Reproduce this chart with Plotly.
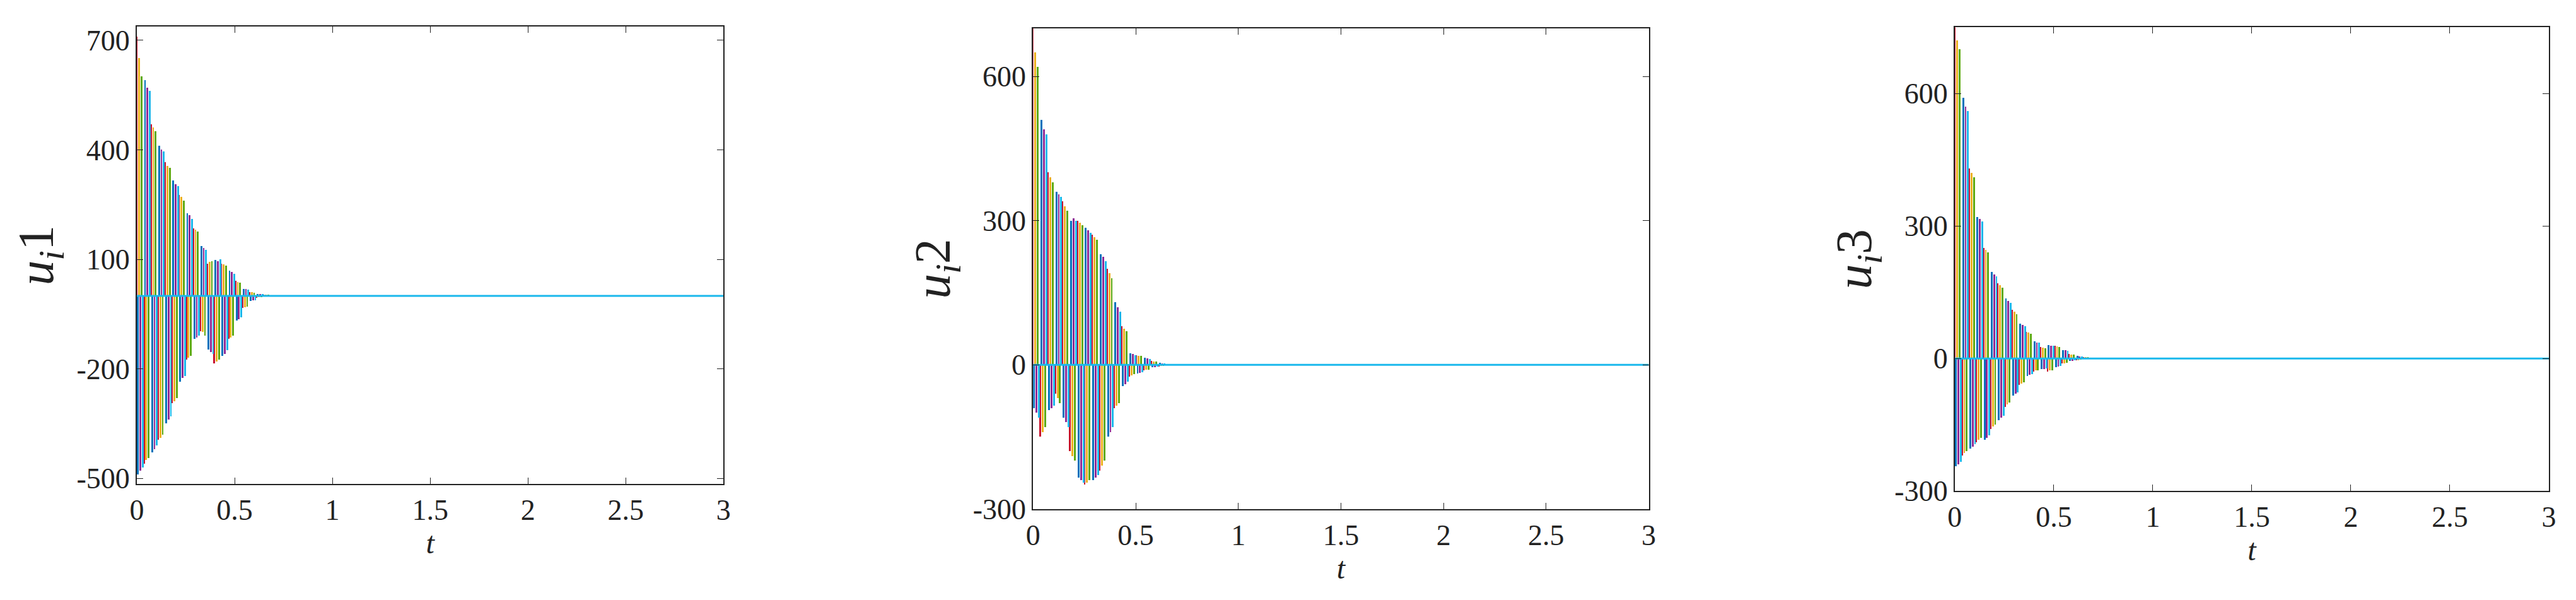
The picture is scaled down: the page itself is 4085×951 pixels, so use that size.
import plotly.graph_objects as go

# spike times for the six agents (s)
t_a0 = [0.000, 0.036, 0.072, 0.108, 0.144, 0.180, 0.216, 0.252, 0.288, 0.324, 0.360, 0.396, 0.432, 0.468, 0.504, 0.540, 0.576, 0.612, 0.648, 0.684]
t_a1 = [0.006, 0.042, 0.078, 0.114, 0.150, 0.186, 0.222, 0.258, 0.294, 0.330, 0.366, 0.402, 0.438, 0.474, 0.510, 0.546, 0.582, 0.618, 0.654, 0.690]
t_a2 = [0.012, 0.048, 0.084, 0.120, 0.156, 0.192, 0.228, 0.264, 0.300, 0.336, 0.372, 0.408, 0.444, 0.480, 0.516, 0.552, 0.588, 0.624, 0.660, 0.696]
t_a3 = [0.018, 0.054, 0.090, 0.126, 0.162, 0.198, 0.234, 0.270, 0.306, 0.342, 0.378, 0.414, 0.450, 0.486, 0.522, 0.558, 0.594, 0.630, 0.666, 0.702]
t_a4 = [0.024, 0.060, 0.096, 0.132, 0.168, 0.204, 0.240, 0.276, 0.312, 0.348, 0.384, 0.420, 0.456, 0.492, 0.528, 0.564, 0.600, 0.636, 0.672, 0.708]
t_a5 = [0.030, 0.066, 0.102, 0.138, 0.174, 0.210, 0.246, 0.282, 0.318, 0.354, 0.390, 0.426, 0.462, 0.498, 0.534, 0.570, 0.606, 0.642, 0.678, 0.714]
times = [t_a0, t_a1, t_a2, t_a3, t_a4, t_a5]

# u_i1
u1_a0 = [710, -460, 470, -395, 365, -295, 275, -175, 185, -98, 88, -185, 88, -118, 40, -34, 10, -6, 2, -1]
u1_a1 = [-490, 590, -430, 410, -350, 315, -235, 225, -118, 135, -148, 98, -165, 68, -68, 19, -14, 5, -2, 1]
u1_a2 = [650, -450, 460, -390, 355, -290, 270, -170, 180, -100, 92, -180, 85, -115, 38, -32, 9, -5, 2, -1]
u1_a3 = [-480, 570, -420, 400, -340, 305, -225, 220, -115, 130, -155, 95, -160, 65, -65, 18, -13, 5, -2, 1]
u1_a4 = [600, -445, 450, -380, 350, -280, 260, -165, 175, -110, 95, -175, 82, -110, 36, -30, 8, -5, 2, -1]
u1_a5 = [-470, 560, -410, 395, -330, 300, -220, 210, -110, 125, -160, 100, -150, 60, -60, 17, -12, 4, -1, 1]

# u_i2
u2_a0 = [700, -150, 400, -60, 340, -180, 300, -250, 270, -220, 200, -90, 80, -25, 20, -12, 8, -4, 2, -1]
u2_a1 = [-90, 510, -95, 360, -110, 300, -235, 285, -240, 230, -150, 130, -45, 24, -18, 14, -5, 4, -1, 1]
u2_a2 = [650, -140, 390, -70, 330, -190, 295, -245, 265, -210, 190, -85, 75, -22, 19, -11, 7, -3, 2, -1]
u2_a3 = [-100, 490, -90, 355, -120, 305, -240, 280, -235, 225, -140, 120, -40, 22, -17, 13, -5, 3, -1, 1]
u2_a4 = [620, -130, 380, -80, 320, -200, 290, -240, 260, -200, 180, -80, 70, -20, 18, -10, 7, -3, 2, -1]
u2_a5 = [-110, 480, -85, 350, -130, 300, -245, 275, -230, 215, -130, 110, -35, 20, -16, 12, -4, 3, -1, 1]

# u_i3
u3_a0 = [750, -220, 430, -190, 250, -160, 170, -110, 110, -60, 60, -30, 25, -30, 28, -12, 10, -4, 2, -1]
u3_a1 = [-245, 590, -205, 320, -185, 195, -140, 135, -85, 78, -40, 38, -25, 30, -20, 19, -6, 5, -1, 1]
u3_a2 = [720, -215, 420, -185, 245, -155, 165, -105, 105, -58, 58, -28, 24, -28, 27, -11, 9, -4, 2, -1]
u3_a3 = [-240, 570, -200, 315, -180, 190, -135, 130, -80, 75, -38, 36, -24, 29, -19, 18, -6, 4, -1, 1]
u3_a4 = [700, -210, 410, -180, 240, -150, 160, -100, 100, -55, 55, -27, 23, -27, 26, -10, 9, -3, 2, -1]
u3_a5 = [-235, 560, -195, 310, -175, 185, -130, 125, -78, 72, -36, 35, -23, 28, -18, 17, -5, 4, -1, 1]

panels = [
    [u1_a0, u1_a1, u1_a2, u1_a3, u1_a4, u1_a5],
    [u2_a0, u2_a1, u2_a2, u2_a3, u2_a4, u2_a5],
    [u3_a0, u3_a1, u3_a2, u3_a3, u3_a4, u3_a5],
]
steady_t = [0, 3]
steady_u = [0, 0]

colors = ['#C8102E', '#0072BD', '#EDB120', '#8E2A96', '#5DAA10', '#1AB8EC']
y_titles = ['<i>u<sub>i</sub></i>1', '<i>u<sub>i</sub></i>2', '<i>u<sub>i</sub></i>3']
y_ranges = [[-515, 737], [-300, 700], [-300, 750]]
y_ticks = [[-500, -200, 100, 400, 700], [-300, 0, 300, 600], [-300, 0, 300, 600]]
x_ticks = [0, 0.5, 1, 1.5, 2, 2.5, 3]
x_domains = [[0.0485, 0.2776], [0.3985, 0.6389], [0.7584, 0.9904]]
y_domains = [[0.180, 0.966], [0.137, 0.963], [0.168, 0.965]]

font = 'Liberation Serif, Times New Roman, DejaVu Serif, serif'
fig = go.Figure()
for p, series in enumerate(panels):
    xa = 'x' if p == 0 else f'x{p + 1}'
    ya = 'y' if p == 0 else f'y{p + 1}'
    for k, vals in enumerate(series):
        fig.add_trace(go.Bar(x=times[k], y=vals, width=0.009, marker_color=colors[k],
                             marker_line_width=0, xaxis=xa, yaxis=ya, showlegend=False))
    fig.add_trace(go.Scatter(x=steady_t, y=steady_u, mode='lines', line=dict(color=colors[5], width=3),
                             xaxis=xa, yaxis=ya, showlegend=False))

    axis_common = dict(showline=True, linecolor='#222', linewidth=2, mirror='ticks', ticks='inside',
                       ticklen=10, tickcolor='#222', showgrid=False, zeroline=False,
                       tickfont=dict(family=font, size=46, color='#222'))
    fig.layout[xa.replace('x', 'xaxis')] = dict(
        axis_common, domain=x_domains[p], range=[0, 3], tickvals=x_ticks,
        ticktext=[f'{v:g}' for v in x_ticks], anchor=ya,
        title=dict(text='<i>t</i>', font=dict(family=font, size=48, color='#222'), standoff=2))
    fig.layout[ya.replace('y', 'yaxis')] = dict(
        axis_common, domain=y_domains[p], range=y_ranges[p], tickvals=y_ticks[p],
        ticktext=[str(v) for v in y_ticks[p]], anchor=xa,
        title=dict(text=y_titles[p], font=dict(family=font, size=80, color='#222'), standoff=10))

fig.update_layout(width=4085, height=951, margin=dict(l=0, r=0, t=0, b=0),
                  paper_bgcolor='white', plot_bgcolor='white', barmode='overlay', bargap=0)
fig.write_html('out.html')
